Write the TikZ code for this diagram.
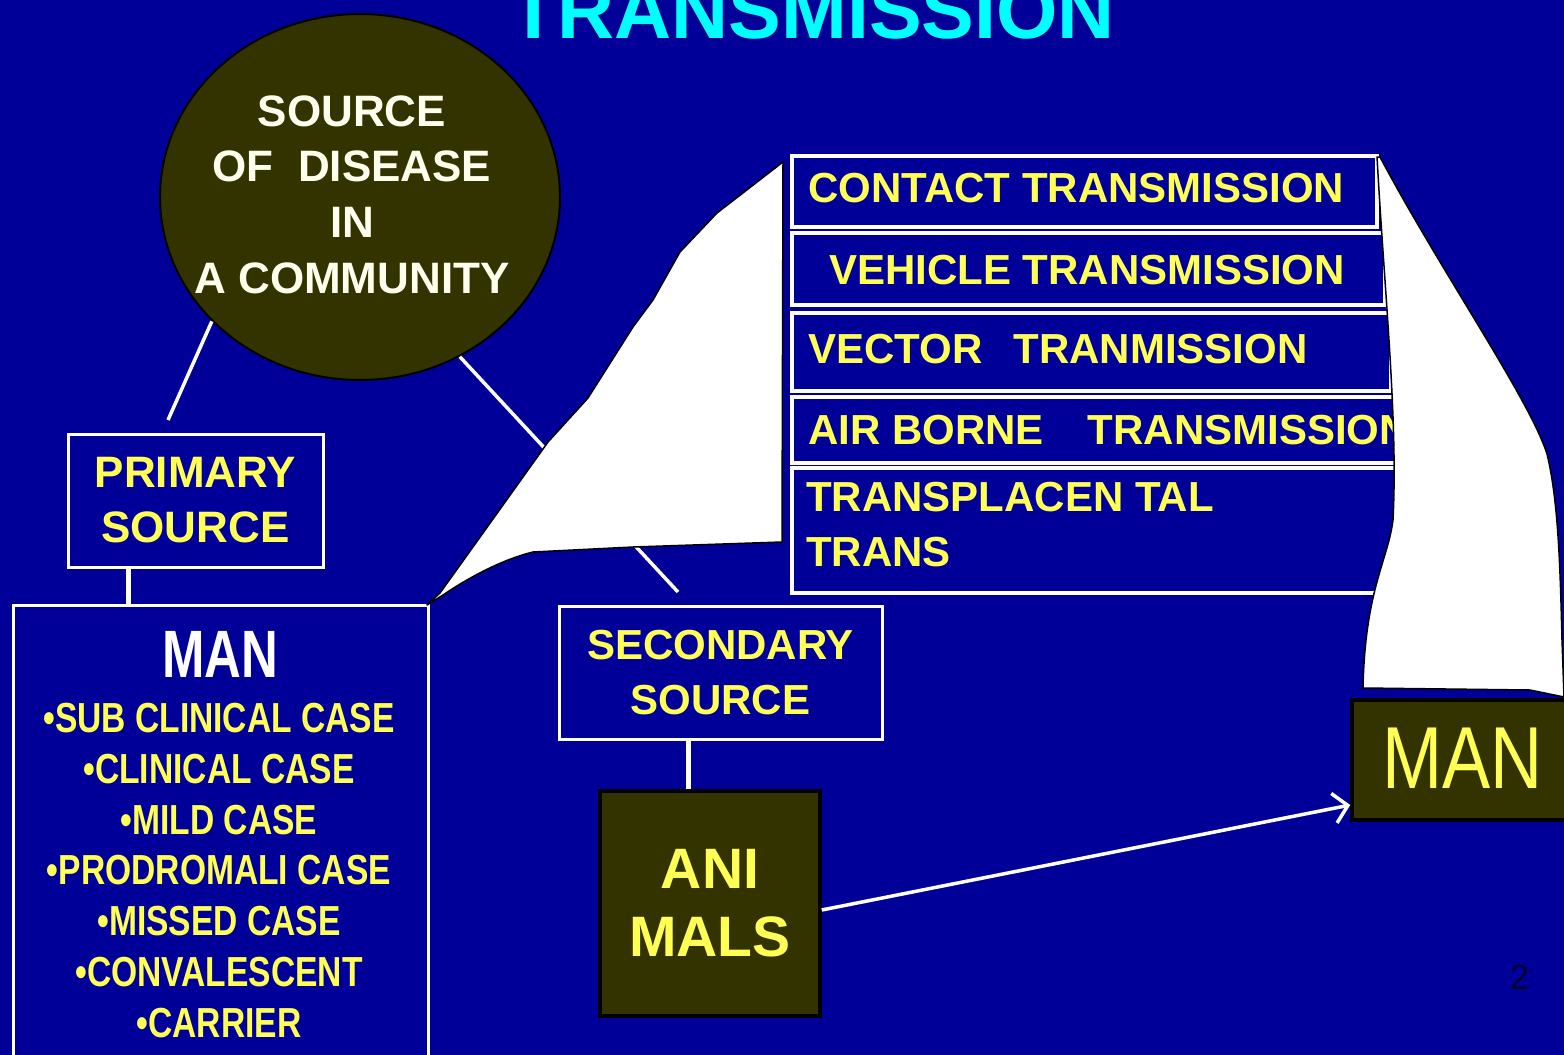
\documentclass[tikz,border=0pt]{standalone}
\usepackage{fontspec}
\setmainfont{Liberation Sans}
\newfontfamily\narrowfont{Liberation Sans}[FakeStretch=0.8]
\newfontfamily\slimfont{Liberation Sans}[FakeStretch=0.76]
\newfontfamily\mantwofont{Liberation Sans}[FakeStretch=0.82]
\usetikzlibrary{shapes.geometric,arrows.meta,calc}
\definecolor{bgblue}{HTML}{000099}
\definecolor{olive}{HTML}{333300}
\definecolor{txtyellow}{HTML}{FFFF55}
\definecolor{cream}{HTML}{FFFFEE}
\definecolor{titlecyan}{HTML}{00FFFF}
\definecolor{pagenum}{HTML}{000033}
\begin{document}
\begin{tikzpicture}[x=1pt,y=-1pt,
  framebox/.style={rectangle,draw=white,line width=3pt,inner sep=0pt},
  darkbox/.style={rectangle,draw=black,fill=olive,line width=3.5pt,inner sep=0pt},
  ttext/.style={text=txtyellow,font=\bfseries\fontsize{42}{55}\selectfont,inner sep=0pt},
  link/.style={draw=white,line width=3.5pt},
  paper/.style={fill=white,draw=black,line width=1.5pt,line join=round}]
\useasboundingbox (0,0) rectangle (1564,1055);
\fill[bgblue] (0,0) rectangle (1564,1055);
\clip (0,0) rectangle (1564,1055);

% title (cut at top)
\node[anchor=base,text=titlecyan,font=\bfseries\fontsize{79}{79}\selectfont,inner sep=0pt] (title) at (812,38) {TRANSMISSION};

% source circle
\node[ellipse,draw=black,line width=2pt,fill=olive,minimum width=400pt,minimum height=366pt,inner sep=0pt] (src) at (360,197) {};
\node[align=center,text=cream,font=\bfseries\fontsize{44}{55.7}\selectfont,inner sep=0pt] (srctext) at (352,194.5) {SOURCE\\OF\ \ DISEASE\\IN\\A COMMUNITY};

% primary source
\node[framebox,minimum width=255pt,minimum height=133pt,align=center,text=txtyellow,font=\bfseries\fontsize{44}{55}\selectfont] (prim) at (195.5,500.5) {PRIMARY\\SOURCE};

% man box
\node[framebox,minimum width=415pt,minimum height=560pt] (manbox) at (220.5,885) {};
\node[text=white,font=\slimfont\bfseries\fontsize{67}{67}\selectfont,inner sep=0pt] (mantitle) at (220,654) {MAN};
\node[align=center,text=txtyellow,font=\narrowfont\bfseries\fontsize{42}{50.8}\selectfont,inner sep=0pt] (manlist) at (219,870.5) {•SUB CLINICAL CASE\\•CLINICAL CASE\\•MILD CASE\\•PRODROMALI CASE\\•MISSED CASE\\•CONVALESCENT\\•CARRIER};

% secondary source
\node[framebox,minimum width=323pt,minimum height=133pt,align=center,text=txtyellow,font=\bfseries\fontsize{42}{55}\selectfont] (sec) at (720.5,672.5) {SECONDARY\\SOURCE};

% animals
\node[darkbox,minimum width=220pt,minimum height=225pt,align=center,text=txtyellow,font=\bfseries\fontsize{57}{68}\selectfont] (ani) at (710,903.5) {ANI\\MALS};

% man (target)
\node[darkbox,minimum width=250pt,minimum height=120pt] (man2) at (1477,760) {};
\node[text=txtyellow,font=\mantwofont\fontsize{88}{88}\selectfont,inner sep=0pt] (man2text) at (1462.5,758.5) {MAN};

% transmission boxes
\node[framebox,line width=3.5pt,minimum width=585pt,minimum height=71pt] (t1) at (1084.5,191.5) {};
\node[framebox,line width=3.5pt,minimum width=593pt,minimum height=72pt] (t2) at (1088.5,269) {};
\node[framebox,line width=3.5pt,minimum width=599pt,minimum height=78pt] (t3) at (1091.5,352) {};
\node[framebox,line width=3.5pt,minimum width=608pt,minimum height=66pt] (t4) at (1096,430) {};
\node[framebox,line width=3.5pt,minimum width=608pt,minimum height=125pt] (t5) at (1096,530.5) {};
\node[ttext,anchor=west] (t1text) at (808,188) {CONTACT TRANSMISSION};
\node[ttext,anchor=west] (t2text) at (829,270) {VEHICLE TRANSMISSION};
\node[ttext,anchor=west] (t3text) at (808,349) {VECTOR\hspace{31pt}TRANMISSION};
\node[ttext,anchor=west] (t4text) at (808,430) {AIR BORNE\hspace{44pt}TRANSMISSION};
\node[ttext,anchor=west,align=left] (t5text) at (806,524.5) {TRANSPLACEN TAL\\TRANS};

% connectors
\coordinate (c1end) at (168,420);
\coordinate (c2end) at (678,592);
\draw[link] (src.220) -- (c1end);
\draw[link] (src.302) -- (c2end);
\draw[link,line width=5pt] ([xshift=-67.5pt]prim.south) -- ([xshift=-67.5pt]prim.south |- manbox.north);
\draw[link,line width=5pt] ([xshift=-32.5pt]sec.south) -- ([xshift=-32.5pt]sec.south |- ani.north);
\draw[link,-{Straight Barb[length=14pt,width=30pt]}] ([yshift=-6.5pt]ani.east) -- ([yshift=-45pt]man2.west);

% curled paper shapes
\draw[paper] (427,605) -- (440,593) -- (483,533) -- (548,442) -- (588,398) -- (633,327) -- (653,300) -- (680,252) -- (717,213) -- (783,162) -- (782,542) -- (633,547) -- (533,552) .. controls (500,560) and (465,580) .. (443,595) -- cycle;
\draw[paper] (1377,157) .. controls (1385,300) and (1398,420) .. (1393,520) .. controls (1388,560) and (1365,590) .. (1363,688) -- (1530,690) -- (1564,697) -- (1562,640) .. controls (1560,560) and (1558,500) .. (1547,454) .. controls (1530,400) and (1440,270) .. (1380,157) -- cycle;

% page number
\node[text=pagenum,font=\fontsize{35}{35}\selectfont,inner sep=0pt] (pgnum) at (1519.5,977.5) {2};
\end{tikzpicture}
\end{document}
